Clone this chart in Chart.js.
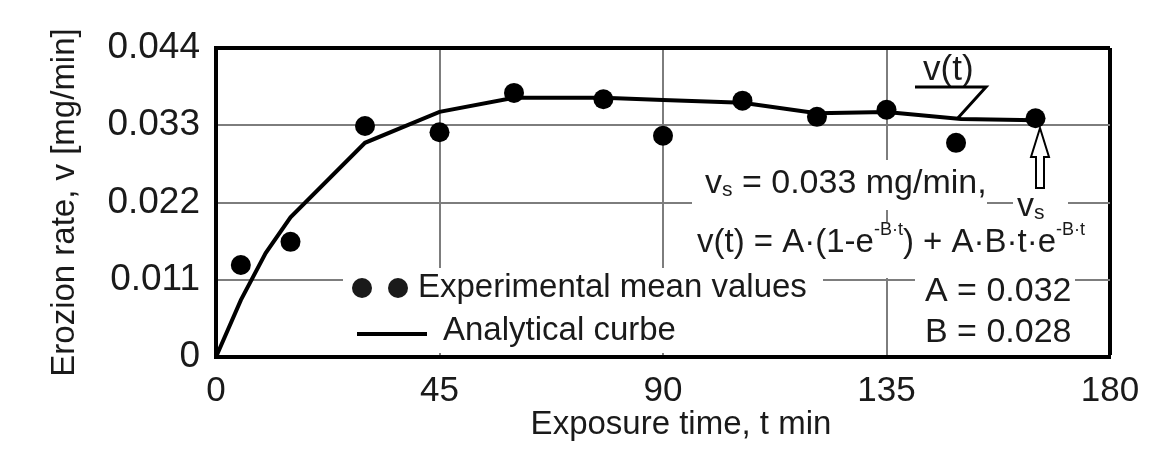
<!DOCTYPE html>
<html>
<head>
<meta charset="utf-8">
<script src="https://cdn.jsdelivr.net/npm/chart.js@4.4.0/dist/chart.umd.min.js"></script>
<style>
  html, body { margin: 0; padding: 0; background: #fff; }
  #wrap { width: 1161px; height: 454px; }
</style>
</head>
<body>
<div id="wrap"><canvas id="c" width="1161" height="454"></canvas></div>
<script>
// ---- data ----
const xTicks = [0, 45, 90, 135, 180];
const xTickLabels = ['0', '45', '90', '135', '180'];
const yTicks = [0, 0.011, 0.022, 0.033, 0.044];
const yTickLabels = ['0', '0.011', '0.022', '0.033', '0.044'];

// experimental mean values (dots)
const expT = [5, 15, 30, 45, 60, 78, 90, 106, 121, 135, 149, 165];
const expV = [0.0131, 0.0164, 0.0329, 0.0320, 0.0376, 0.0367, 0.0315, 0.0365, 0.0342, 0.0352, 0.0305, 0.0340];

// analytical curve (line)
const curveT = [0, 5, 10, 15, 30, 45, 60, 78, 90, 106, 121, 135, 150, 165];
const curveV = [0, 0.0081, 0.0148, 0.0199, 0.0305, 0.0349, 0.0369, 0.0369, 0.0366, 0.0362, 0.0347, 0.0349, 0.0339, 0.0337];

const xTitle = 'Exposure time, t min';
const yTitle = 'Erozion rate, v [mg/min]';
const legendLabels = ['Experimental mean values', 'Analytical curbe'];

const FONT = "'Liberation Sans', Arial, sans-serif";
const TXT = '#1a1a1a';

function drawRich(ctx, x, y, parts, size) {
  // parts: [text, kind] kind: 'n' normal, 'sub', 'sup'
  let cx = x;
  for (const [t, kind] of parts) {
    let fs = size, dy = 0;
    if (kind === 'sub') { fs = Math.round(size * 0.62); dy = size * 0.18; }
    if (kind === 'sup') { fs = Math.round(size * 0.55); dy = -size * 0.38; }
    ctx.font = fs + 'px ' + FONT;
    ctx.fillText(t, cx, y + dy);
    cx += ctx.measureText(t).width;
  }
}

const annotations = {
  id: 'annotations',
  beforeDatasetsDraw(chart) {
    const ctx = chart.ctx;
    ctx.save();
    // white boxes behind text (they interrupt the grid lines)
    ctx.fillStyle = '#fff';
    ctx.fillRect(343, 268, 480, 85);    // legend
    ctx.fillRect(692, 160, 295, 50);    // vs = ...
    ctx.fillRect(695, 222, 399, 56);    // formula
    ctx.fillRect(1013, 190, 55, 32);    // vs label
    ctx.fillRect(915, 278, 160, 77);    // A, B

    ctx.fillStyle = TXT;
    ctx.textBaseline = 'middle';
    ctx.textAlign = 'left';
    // legend
    ctx.beginPath(); ctx.arc(362, 288, 10, 0, Math.PI * 2); ctx.fill();
    ctx.beginPath(); ctx.arc(398, 288, 10, 0, Math.PI * 2); ctx.fill();
    ctx.strokeStyle = '#000'; ctx.lineWidth = 4;
    ctx.beginPath(); ctx.moveTo(357, 334); ctx.lineTo(427, 334); ctx.stroke();
    ctx.font = '33px ' + FONT;
    ctx.fillText(legendLabels[0], 418, 288);
    ctx.fillText(legendLabels[1], 443, 331);

    // formula texts
    drawRich(ctx, 705, 184, [['v', 'n'], ['s', 'sub'], [' = 0.033 mg/min,', 'n']], 34);
    drawRich(ctx, 697, 243, [['v(t) = A\u00B7(1-e', 'n'], ['-B\u00B7t', 'sup'], [') + A\u00B7B\u00B7t\u00B7e', 'n'], ['-B\u00B7t', 'sup']], 33);
    ctx.font = '34px ' + FONT;
    ctx.fillText('A = 0.032', 925, 292);
    ctx.fillText('B = 0.028', 925, 333);
    drawRich(ctx, 1017, 207, [['v', 'n'], ['s', 'sub']], 34);
    ctx.restore();
  },
  afterDatasetsDraw(chart) {
    const ctx = chart.ctx;
    ctx.save();
    ctx.fillStyle = TXT;
    ctx.textBaseline = 'middle';
    ctx.font = '35px ' + FONT;
    ctx.fillText('v(t)', 923, 70);
    ctx.strokeStyle = '#000';
    ctx.lineWidth = 3;
    ctx.beginPath();
    ctx.moveTo(915, 87); ctx.lineTo(986, 87); ctx.lineTo(957, 119);
    ctx.stroke();
    // hollow arrow pointing at v_s
    ctx.lineWidth = 2;
    ctx.fillStyle = '#fff';
    ctx.beginPath();
    ctx.moveTo(1040, 128);
    ctx.lineTo(1049, 157);
    ctx.lineTo(1044, 157);
    ctx.lineTo(1044, 188);
    ctx.lineTo(1036, 188);
    ctx.lineTo(1036, 157);
    ctx.lineTo(1031, 157);
    ctx.closePath();
    ctx.fill(); ctx.stroke();
    // x-axis title (slightly right of the plot centre, as in the reference)
    ctx.fillStyle = TXT;
    ctx.textAlign = 'center';
    ctx.font = '33px ' + FONT;
    ctx.fillText(xTitle, 681, 425);
    ctx.restore();
  }
};

const gridColor = '#7d7d7d';

new Chart(document.getElementById('c'), {
  type: 'line',
  data: {
    datasets: [
      {
        label: legendLabels[0],
        data: expT.map((t, i) => ({ x: t, y: expV[i] })),
        showLine: false,
        pointStyle: 'circle',
        pointRadius: 10,
        pointBackgroundColor: '#000',
        pointBorderWidth: 0,
        borderColor: '#000'
      },
      {
        label: legendLabels[1],
        data: curveT.map((t, i) => ({ x: t, y: curveV[i] })),
        borderColor: '#000',
        borderWidth: 4,
        pointRadius: 0,
        tension: 0,
        fill: false
      }
    ]
  },
  options: {
    responsive: false,
    animation: false,
    devicePixelRatio: 1,
    layout: { padding: { left: 0, right: 51, top: 48, bottom: 0 } },
    plugins: { legend: { display: false }, tooltip: { enabled: false } },
    scales: {
      x: {
        type: 'linear',
        min: 0, max: 180,
        afterBuildTicks: s => { s.ticks = xTicks.map(v => ({ value: v })); },
        afterFit: s => { s.height = 97; },
        ticks: {
          callback: (v) => xTickLabels[xTicks.indexOf(v)],
          font: { family: FONT, size: 35 },
          color: TXT,
          padding: 13,
          maxRotation: 0,
          autoSkip: false
        },
        grid: {
          drawTicks: false,
          color: c => (c.tick && c.tick.value === 180) ? '#000' : gridColor,
          lineWidth: c => (c.tick && c.tick.value === 180) ? 4 : 2
        },
        border: { display: true, color: '#000', width: 4 },
        title: { display: false, text: xTitle }
      },
      y: {
        type: 'linear',
        min: 0, max: 0.044,
        afterBuildTicks: s => { s.ticks = yTicks.map(v => ({ value: v })); },
        afterFit: s => { s.width = 216; },
        ticks: {
          callback: (v) => yTickLabels[yTicks.indexOf(v)],
          font: { family: FONT, size: 37 },
          color: TXT,
          padding: 16,
          autoSkip: false
        },
        grid: {
          drawTicks: false,
          color: c => (c.tick && c.tick.value === 0.044) ? '#000' : gridColor,
          lineWidth: c => (c.tick && c.tick.value === 0.044) ? 4 : 2
        },
        border: { display: true, color: '#000', width: 4 },
        title: {
          display: true, text: yTitle, color: TXT,
          font: { family: FONT, size: 33 },
          padding: { top: 45, bottom: 0 }
        }
      }
    }
  },
  plugins: [annotations]
});
</script>
</body>
</html>
